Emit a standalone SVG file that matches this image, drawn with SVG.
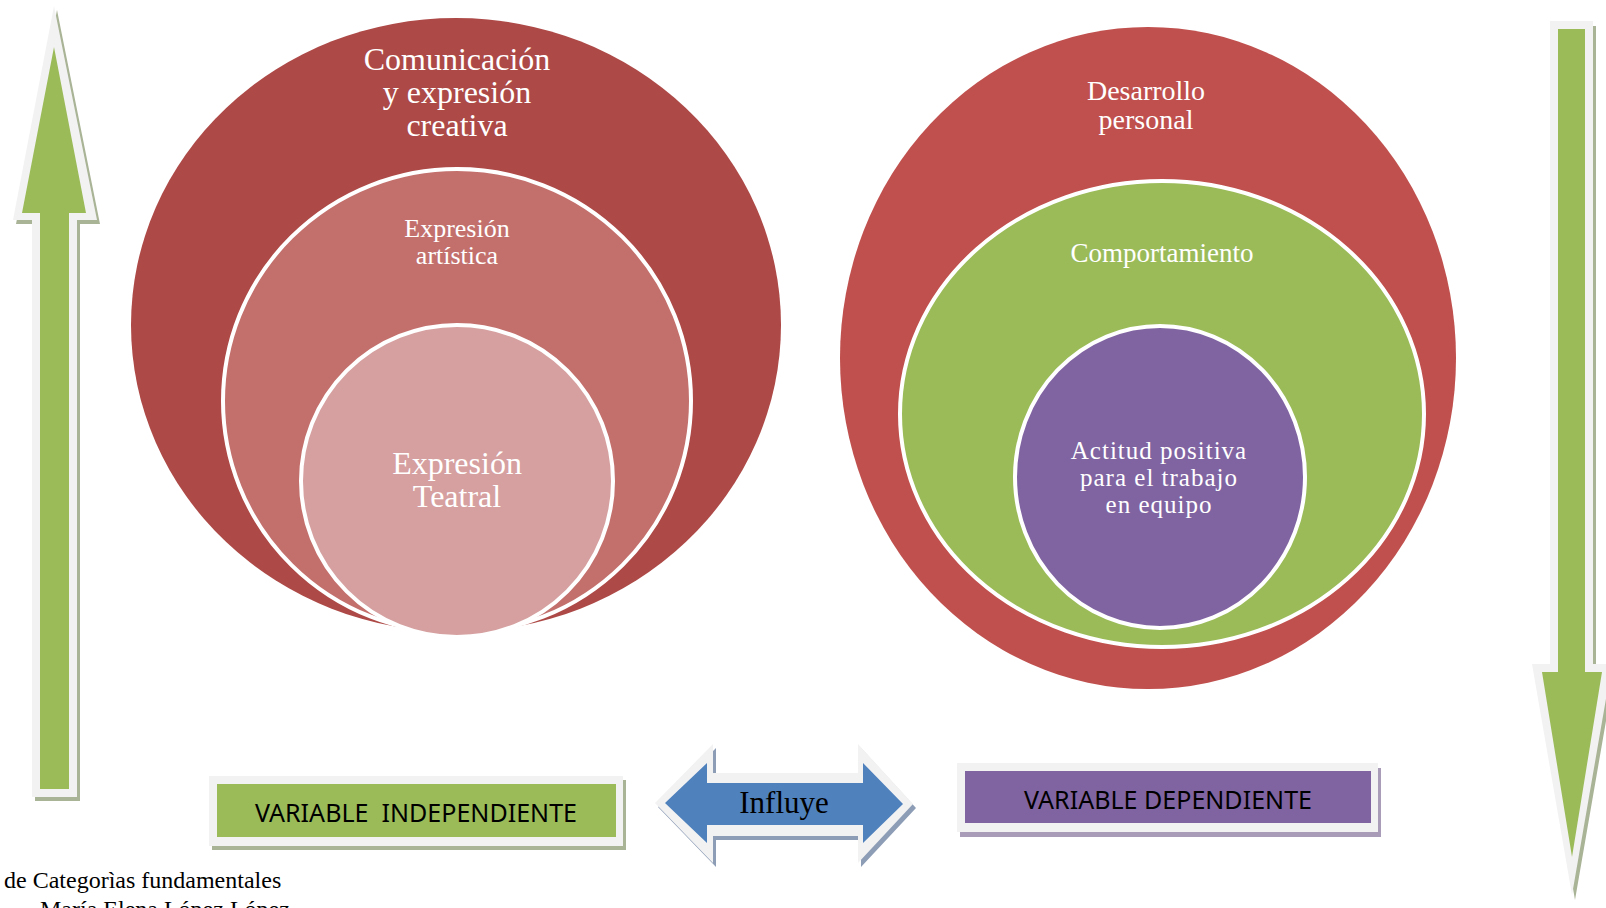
<svg xmlns="http://www.w3.org/2000/svg" width="1606" height="908" viewBox="0 0 1606 908">
<style>
.ct{font-family:"Liberation Serif","Times New Roman",serif;fill:#ffffff;text-anchor:middle}
.bx{font-family:"Noto Sans","Liberation Sans",sans-serif;fill:#000000;text-anchor:middle}
.cap{font-family:"Liberation Serif","Times New Roman",serif;fill:#000000}
.wb{fill:#f2f2f2}
.ring{stroke:#ffffff;stroke-width:4}
</style>
<rect x="0" y="0" width="1606" height="908" fill="#ffffff"/>

<g id="left-arrow">
<polygon points="57,10 100,224 80,224 80,801 35,801 35,224 16,224" fill="#a9b396"/>
<polygon class="wb" points="54,6 97,220 77,220 77,797 32,797 32,220 13,220"/>
<polygon points="54,47 86,213 69,213 69,789 40,789 40,213 22,213" fill="#9bbb59"/>
</g>

<g id="right-arrow">
<polygon points="1553,26 1596,26 1596,669 1615,669 1575,900 1535,669 1553,669" fill="#a9b396"/>
<polygon class="wb" points="1550,21 1593,21 1593,664 1612,664 1572,895 1532,664 1550,664"/>
<polygon points="1558,29 1585,29 1585,672 1602,672 1572,857 1542,672 1558,672" fill="#9bbb59"/>
</g>

<g id="circle-comunicacion">
<ellipse cx="456" cy="325" rx="325" ry="307" fill="#ad4946"/>
<text class="ct" x="457" y="70" font-size="32">Comunicación</text>
<text class="ct" x="457" y="103" font-size="32">y expresión</text>
<text class="ct" x="457" y="136" font-size="32">creativa</text>
</g>
<g id="circle-artistica">
<ellipse class="ring" cx="457" cy="401" rx="234" ry="232" fill="#c3706d"/>
<text class="ct" x="457" y="237" font-size="26">Expresión</text>
<text class="ct" x="457" y="264" font-size="26">artística</text>
</g>
<g id="circle-teatral">
<ellipse class="ring" cx="457" cy="481" rx="156" ry="156" fill="#d6a0a0"/>
<text class="ct" x="457" y="474" font-size="32">Expresión</text>
<text class="ct" x="457" y="507" font-size="32">Teatral</text>
</g>

<g id="circle-desarrollo">
<ellipse cx="1148" cy="358" rx="308" ry="331" fill="#c0504d"/>
<text class="ct" x="1146" y="100" font-size="28">Desarrollo</text>
<text class="ct" x="1146" y="129" font-size="28">personal</text>
</g>
<g id="circle-comportamiento">
<ellipse class="ring" cx="1162" cy="414" rx="262" ry="233" fill="#9bbb59"/>
<text class="ct" x="1162" y="262" font-size="27">Comportamiento</text>
</g>
<g id="circle-actitud">
<ellipse class="ring" cx="1160" cy="477" rx="145" ry="151" fill="#8064a2"/>
<text class="ct" x="1159" y="459" font-size="25" letter-spacing="1">Actitud positiva</text>
<text class="ct" x="1159" y="486" font-size="25" letter-spacing="1">para el trabajo</text>
<text class="ct" x="1159" y="513" font-size="25" letter-spacing="1">en equipo</text>
</g>

<g id="var-independiente">
<rect x="212" y="780" width="414" height="70" fill="#a9b396"/>
<rect class="wb" x="209" y="776" width="414" height="70"/>
<rect x="217" y="784" width="399" height="53" fill="#9bbb59"/>
<text class="bx" x="416" y="822" font-size="26" textLength="322" lengthAdjust="spacingAndGlyphs" xml:space="preserve">VARIABLE  INDEPENDIENTE</text>
</g>

<g id="connectors">
<g id="influye">
<polygon points="658,807 716,748 716,777 861,777 861,748 916,808 861,867 861,840 716,840 716,867" fill="#8d9db6"/>
<polygon class="wb" points="655,803 713,744 713,773 858,773 858,744 913,804 858,863 858,836 713,836 713,863"/>
<polygon points="665,803 707,763 707,783 863,783 863,763 903,804 863,843 863,825 707,825 707,843" fill="#4f81bd"/>
<text class="cap" x="784" y="813" font-size="31" text-anchor="middle">Influye</text>
</g>
</g>

<g id="var-dependiente">
<rect x="960" y="768" width="421" height="69" fill="#a89cb8"/>
<rect class="wb" x="957" y="763" width="421" height="69"/>
<rect x="965" y="771" width="406" height="52" fill="#8064a2"/>
<text class="bx" x="1168" y="809" font-size="26" textLength="288" lengthAdjust="spacingAndGlyphs">VARIABLE DEPENDIENTE</text>
</g>

<g id="caption">
<text class="cap" x="4" y="888" font-size="24">de Categorìas fundamentales</text>
<text class="cap" x="40" y="917" font-size="24">María Elena López López</text>
</g>
</svg>
